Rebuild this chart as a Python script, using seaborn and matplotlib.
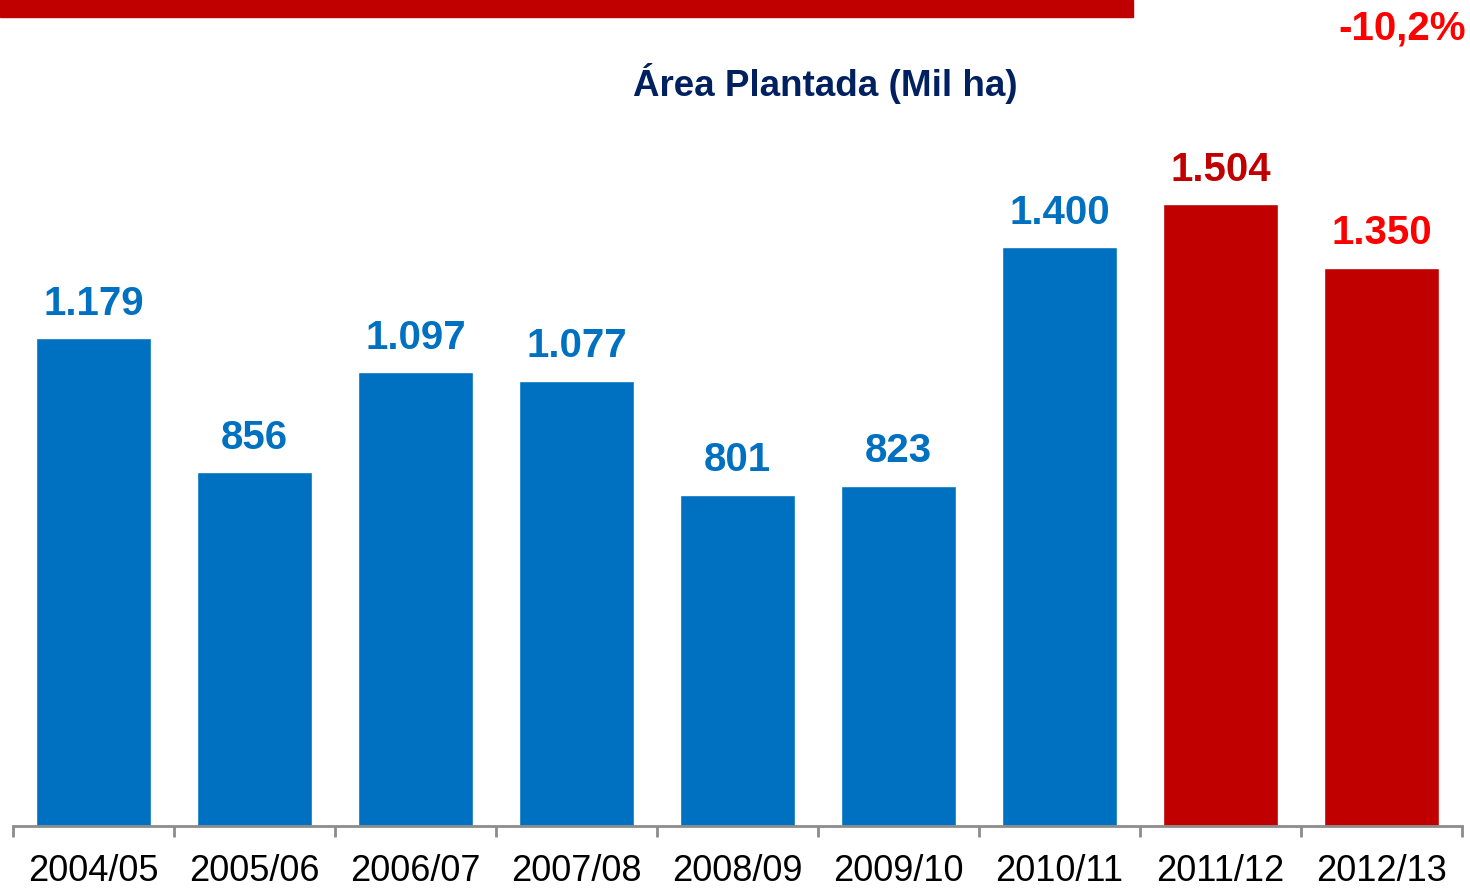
import matplotlib
matplotlib.use("Agg")
import matplotlib.pyplot as plt
import seaborn as sns
import numpy as np
import pandas as pd
from matplotlib.patches import Rectangle

# dados
safras = ['2004/05', '2005/06', '2006/07', '2007/08', '2008/09',
          '2009/10', '2010/11', '2011/12', '2012/13']
area = [1179, 856, 1097, 1077, 801, 823, 1400, 1504, 1350]
rotulos = ['1.179', '856', '1.097', '1.077', '801', '823', '1.400', '1.504', '1.350']
cores_barra = ['#0070C0'] * 7 + ['#C00000', '#C00000']
cores_rotulo = ['#0070C0'] * 7 + ['#C00000', '#FF0000']
variacao = '-10,2%'
titulo = 'Área Plantada (Mil ha)'

df = pd.DataFrame({'safra': safras, 'area': area})

sns.set_style('white')
plt.rcParams['font.family'] = ['Liberation Sans', 'DejaVu Sans']

fig = plt.figure(figsize=(14.7, 8.89), dpi=100)
ax = fig.add_axes([13 / 1470, 1 - 826 / 889, (1462 - 13) / 1470, 826 / 889])

sns.barplot(data=df, x='safra', y='area', hue='safra', palette=cores_barra,
            width=0.71, legend=False, ax=ax, saturation=1)

ax.set_xlim(-0.5, len(safras) - 0.5)
ax.set_ylim(0, 1997)
ax.set_xlabel('')
ax.set_ylabel('')
ax.set_yticks([])
for s in ['top', 'right', 'left']:
    ax.spines[s].set_visible(False)
ax.spines['bottom'].set_color('#8C8C8C')
ax.spines['bottom'].set_linewidth(2)

ax.tick_params(axis='x', which='major', length=0, labelsize=26, pad=20,
               labelcolor='black')
ax.set_xticks(np.arange(-0.5, len(safras)), minor=True)
ax.tick_params(axis='x', which='minor', bottom=True, length=8, width=2,
               color='#8C8C8C', direction='out')

# rótulos
for i, (v, t, c) in enumerate(zip(area, rotulos, cores_rotulo)):
    ax.annotate(t, (i, v), xytext=(0, 11), textcoords='offset points',
                ha='center', va='bottom', fontsize=29, fontweight='bold', color=c)

fig.text(825 / 1470, 1 - 83 / 889, titulo, ha='center', va='center',
         fontsize=26.5, fontweight='bold', color='#002060')
fig.text(1466 / 1470, 1 - 28 / 889, variacao, ha='right', va='center',
         fontsize=29, fontweight='bold', color='#FF0000')
fig.patches.append(Rectangle((0, 1 - 17 / 889), 1133 / 1470, 17 / 889,
                             transform=fig.transFigure, color='#C00000', zorder=5))

fig.savefig('out.png', dpi=100)
